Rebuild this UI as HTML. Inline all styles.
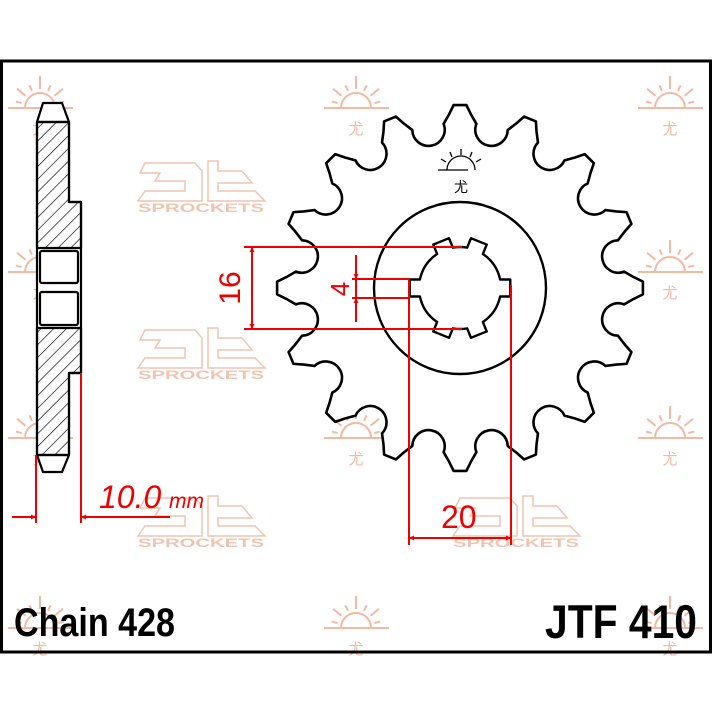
<!DOCTYPE html>
<html><head><meta charset="utf-8"><style>
html,body{margin:0;padding:0;background:#fff;}
svg{display:block;}
</style></head><body>
<svg id="s" width="714" height="714" viewBox="0 0 714 714" xmlns="http://www.w3.org/2000/svg">
<defs>
<pattern id="h" patternUnits="userSpaceOnUse" width="9" height="9" patternTransform="rotate(45)">
<line x1="0" y1="0" x2="0" y2="9" stroke="#000" stroke-width="1.3"/>
</pattern>
<marker id="a" viewBox="0 0 10 10" refX="10" refY="5" markerWidth="9" markerHeight="5" orient="auto-start-reverse" markerUnits="userSpaceOnUse">
<path d="M0,0 L10,5 L0,10 z" fill="#e00"/>
</marker>
</defs>
<rect width="714" height="714" fill="#fff"/>
<g id="wm"></g>
<rect x="1.5" y="61" width="709" height="591" fill="none" stroke="#000" stroke-width="3"/>

<g stroke="#000" stroke-width="2.2" stroke-linejoin="round">
<path d="M43,103 L62,103 L69,122 L69,202 L81,202 L81,373 L69,373 L69,455 L62,472 L43,472 L37,455 L37,122 Z" fill="#fff"/>
<path d="M37,122 L69,122 L69,202 L81,202 L81,248 L37,248 Z" fill="url(#h)"/>
<path d="M37,328 L81,328 L81,373 L69,373 L69,455 L37,455 Z" fill="url(#h)"/>
<rect x="40" y="251" width="38" height="32" rx="2" fill="#fff"/>
<rect x="40" y="292" width="38" height="33" rx="2" fill="#fff"/>
<line x1="37" y1="122" x2="69" y2="122"/>
<line x1="37" y1="455" x2="69" y2="455"/>
</g>

<path id="sp" fill="#fff" stroke="#000" stroke-width="2.6" stroke-linejoin="round"/>
<circle cx="460" cy="288" r="86" fill="none" stroke="#000" stroke-width="2.4"/>
<path id="hole" fill="#fff" stroke="#000" stroke-width="2.4" stroke-linejoin="round"/>
<g stroke="#000" stroke-width="1.3" fill="none">
<path d="M447,170 A14,14 0 0 1 475,170"/>
<line x1="438" y1="170" x2="468" y2="170"/>
<line x1="461" y1="149" x2="461" y2="155"/>
<line x1="450" y1="152" x2="452" y2="157"/><line x1="472" y1="152" x2="470" y2="157"/>
<line x1="441" y1="159" x2="446" y2="162"/><line x1="481" y1="159" x2="476" y2="162"/>
</g>
<text x="461" y="192" font-family="'Liberation Sans','Noto Sans CJK SC',sans-serif" font-size="14" text-anchor="middle" fill="#000">尤</text>

<g stroke="#e00" stroke-width="2" fill="none">
<line x1="36" y1="455" x2="36" y2="523"/>
<line x1="81" y1="373" x2="81" y2="523"/>
<line x1="12" y1="517" x2="36" y2="517" marker-end="url(#a)"/>
<line x1="170" y1="517" x2="81" y2="517" marker-end="url(#a)"/>
<line x1="244" y1="247" x2="462" y2="247"/>
<line x1="244" y1="329" x2="462" y2="329"/>
<line x1="252" y1="288" x2="252" y2="247" marker-end="url(#a)"/>
<line x1="252" y1="288" x2="252" y2="329" marker-end="url(#a)"/>
<line x1="352" y1="279" x2="410" y2="279"/>
<line x1="352" y1="298" x2="410" y2="298"/>
<line x1="356" y1="255" x2="356" y2="279" marker-end="url(#a)"/>
<line x1="356" y1="322" x2="356" y2="298" marker-end="url(#a)"/>
<line x1="356" y1="279" x2="356" y2="298"/>
<line x1="409" y1="279" x2="409" y2="545"/>
<line x1="511" y1="285" x2="511" y2="545"/>
<line x1="460" y1="538" x2="409" y2="538" marker-end="url(#a)"/>
<line x1="460" y1="538" x2="511" y2="538" marker-end="url(#a)"/>
</g>
<g fill="#e00" font-family="'Liberation Sans',sans-serif">
<text x="99" y="508" font-size="32" font-style="italic">10.0</text>
<text x="169" y="508" font-size="21" font-style="italic">mm</text>
<text x="441" y="528" font-size="32">20</text>
<text transform="translate(240,288) rotate(-90)" font-size="30" text-anchor="middle">16</text>
<text transform="translate(349,289) rotate(-90)" font-size="26" text-anchor="middle">4</text>
</g>

<text x="14" y="636" font-family="'Liberation Sans',sans-serif" font-weight="bold" font-size="40" textLength="161" lengthAdjust="spacingAndGlyphs" fill="#000">Chain 428</text>
<text x="545" y="638" font-family="'Liberation Sans',sans-serif" font-weight="bold" font-size="47" textLength="152" lengthAdjust="spacingAndGlyphs" fill="#000">JTF 410</text>
</svg>
<script>
var cx=460,cy=288,N=16,R=183,d="";
function P(r,a){a=a*Math.PI/180;return (cx+r*Math.cos(a)).toFixed(2)+","+(cy-r*Math.sin(a)).toFixed(2);}
for(var i=0;i<N;i++){
 var t=90-i*22.5;
 var p1=P(R,t+2),p2=P(R,t-2),pm=P(174,t-3.6),p3=P(165,t-5.7),p4=P(165,t-22.5+5.7);
 var pm0=P(174,t+3.6);
 d+=((i==0)?("M"+P(165,t+5.7)+" L"):" L")+pm0+" L"+p1+" L"+p2+" L"+pm+" L"+p3+" A16.2,16.2 0 1 0 "+p4+" ";
}
document.getElementById("sp").setAttribute("d",d+"Z");
var angs=[0,68,112,180,248,292],r1=41,r2=51,w=17,h="";
for(var k=0;k<6;k++){
 var a=angs[k],hw=w/2;
 var da1=Math.asin(hw/r1)*180/Math.PI,da2=Math.asin(hw/r2)*180/Math.PI;
 var q1=P(r1,a-da1),q2=P(r2,a-da2),q3=P(r2,a+da2),q4=P(r1,a+da1);
 var nxt=angs[(k+1)%6]-da1;
 var q5=P(r1,nxt);
 h+=((k==0)?("M"+q1):"")+" L"+q2+" L"+q3+" L"+q4+" A"+r1+","+r1+" 0 0 0 "+q5+" ";
}
document.getElementById("hole").setAttribute("d",h+"Z");
var ns="http://www.w3.org/2000/svg",g=document.getElementById("wm"),c="#f3b9a2";
function el(n,at,txt){var e=document.createElementNS(ns,n);for(var k in at)e.setAttribute(k,at[k]);if(txt)e.textContent=txt;g.appendChild(e);return e;}
function sun(x,y){
 el("path",{d:"M"+(x-15)+","+y+" A15,15 0 0 1 "+(x+15)+","+y,stroke:c,"stroke-width":2,fill:"none"});
 el("line",{x1:x-32,y1:y,x2:x+33,y2:y,stroke:c,"stroke-width":2});
 [15,40,65,90,115,140,165].forEach(function(a){var r=a*Math.PI/180;
  var l=(a==90)?32:(a==40||a==140)?30:25;
  el("line",{x1:x+19*Math.cos(r),y1:y-19*Math.sin(r),x2:x+l*Math.cos(r),y2:y-l*Math.sin(r),stroke:c,"stroke-width":2});});
 el("text",{x:x,y:y+26,"font-size":15,"text-anchor":"middle",fill:c,"font-family":"'Liberation Sans','Noto Sans CJK SC',sans-serif"},"尤");
}
function logo(x,y){
 var s={stroke:"#f0c4b0","stroke-width":1.5,fill:"none"};
 s.d="M"+(x-55)+","+(y-20)+" L"+(x-5)+","+(y-20)+" L"+(x+2)+","+(y-12)+" L"+(x+2)+","+(y+18)+" L"+(x-62)+","+(y+18)+" L"+(x-55)+","+(y+8)+" L"+(x-15)+","+(y+8)+" L"+(x-15)+","+(y-2)+" L"+(x-45)+","+(y-2)+" L"+(x-40)+","+(y-10)+" L"+(x-60)+","+(y-10)+" Z";
 el("path",s);
 s.d="M"+(x+8)+","+(y-22)+" L"+(x+18)+","+(y-22)+" L"+(x+18)+","+(y-12)+" L"+(x+42)+","+(y-12)+" L"+(x+52)+","+(y)+" L"+(x+18)+","+(y)+" L"+(x+18)+","+(y+8)+" L"+(x+55)+","+(y+8)+" L"+(x+65)+","+(y+18)+" L"+(x+8)+","+(y+18)+" Z";
 el("path",s);
 el("text",{x:x+1,y:y+29,"font-size":12,"font-weight":"bold","text-anchor":"middle",fill:"#f0c4b0","font-family":"'Liberation Sans',sans-serif",textLength:126,lengthAdjust:"spacingAndGlyphs"},"SPROCKETS");
}
[108,272,438,628].forEach(function(y){[40,356,670].forEach(function(x){sun(x,y);});});
[183,350,518].forEach(function(y){[200,515].forEach(function(x){logo(x,y);});});
</script>
</body></html>
